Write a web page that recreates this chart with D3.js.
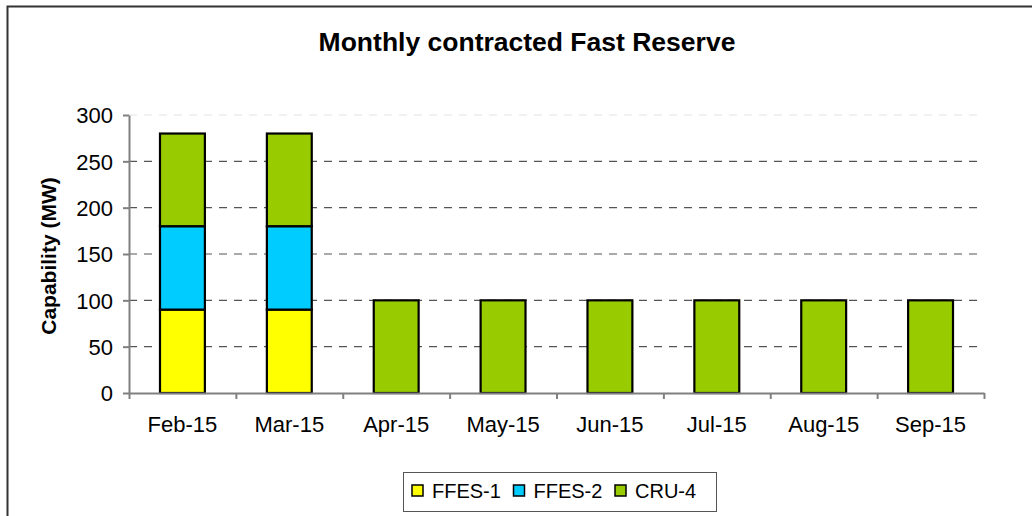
<!DOCTYPE html>
<html lang="en">
<head>
  <meta charset="UTF-8">
  <title>Monthly contracted Fast Reserve</title>
  <script src="https://d3js.org/d3.v7.min.js"></script>
  <style>
    body { margin: 0; background: #ffffff; }
    text { font-family: "Liberation Sans", Arial, sans-serif; fill: #000; }
    .axis path, .axis line { stroke: #808080; stroke-width: 2px; }
    .grid { stroke: #555; stroke-width: 1.2px; stroke-dasharray: 8,7; }
  </style>
</head>
<body>
  <script>
    // chart data
    const months = ["Feb-15", "Mar-15", "Apr-15", "May-15", "Jun-15", "Jul-15", "Aug-15", "Sep-15"];
    const series = ["FFES-1", "FFES-2", "CRU-4"];
    const ffes1 = [90, 90, 0, 0, 0, 0, 0, 0];
    const ffes2 = [90, 90, 0, 0, 0, 0, 0, 0];
    const cru4 = [100, 100, 100, 100, 100, 100, 100, 100];
    const yTicks = [0, 50, 100, 150, 200, 250, 300];
    const colors = ["#ffff00", "#00ccff", "#99cc00"];

    const width = 1032, height = 516;
    const plotLeft = 129, plotRight = 984, plotTop = 115, plotBottom = 393;

    const svg = d3.select("body").append("svg")
      .attr("width", width)
      .attr("height", height);

    // outer chart border (runs off the right and bottom edges)
    svg.append("rect")
      .attr("x", 7.5).attr("y", 6.5)
      .attr("width", 1100).attr("height", 600)
      .attr("fill", "none")
      .attr("stroke", "#333")
      .attr("stroke-width", 2);

    // build rows for the stack
    const rows = months.map((m, i) => ({
      month: m,
      "FFES-1": ffes1[i],
      "FFES-2": ffes2[i],
      "CRU-4": cru4[i]
    }));
    const stacked = d3.stack().keys(series)(rows);

    const x = d3.scaleBand()
      .domain(months)
      .range([plotLeft, plotRight])
      .paddingInner(0.58)
      .paddingOuter(0.29);

    const xEdge = d3.scaleLinear()
      .domain([0, months.length])
      .range([plotLeft, plotRight]);

    const y = d3.scaleLinear()
      .domain([0, 300])
      .range([plotBottom, plotTop]);

    const color = d3.scaleOrdinal().domain(series).range(colors);

    // gridlines
    svg.append("g")
      .selectAll("line")
      .data(yTicks.filter(v => v > 0))
      .enter().append("line")
      .attr("class", "grid")
      .attr("x1", plotLeft).attr("x2", plotRight)
      .attr("y1", d => y(d)).attr("y2", d => y(d))
      .style("stroke", d => d === 300 ? "#e4e4e4" : null);

    // bars
    svg.append("g")
      .selectAll("g")
      .data(stacked)
      .enter().append("g")
      .attr("fill", d => color(d.key))
      .selectAll("rect")
      .data(d => d.filter(s => s[1] - s[0] > 0))
      .enter().append("rect")
      .attr("x", d => x(d.data.month))
      .attr("y", d => y(d[1]))
      .attr("width", x.bandwidth())
      .attr("height", d => y(d[0]) - y(d[1]))
      .attr("stroke", "#000")
      .attr("stroke-width", 2.2);

    // y axis
    const yAxis = svg.append("g")
      .attr("class", "axis")
      .attr("transform", `translate(${plotLeft},0)`)
      .call(d3.axisLeft(y).tickValues(yTicks).tickSize(6).tickPadding(10).tickSizeOuter(0));
    yAxis.selectAll("text")
      .style("font-size", "22px")
      .attr("dy", "0.36em");

    // x axis: tick marks on category boundaries
    svg.append("g")
      .attr("class", "axis")
      .attr("transform", `translate(0,${plotBottom})`)
      .call(d3.axisBottom(xEdge).ticks(months.length).tickSize(6).tickFormat("").tickSizeOuter(0));

    // x axis labels
    const xLab = svg.append("g")
      .attr("transform", `translate(0,${plotBottom})`)
      .call(d3.axisBottom(x).tickSize(0).tickPadding(23));
    xLab.select(".domain").remove();
    xLab.selectAll("text").style("font-size", "22px");

    // title
    svg.append("text")
      .attr("x", 527).attr("y", 51)
      .attr("text-anchor", "middle")
      .style("font-size", "26.5px")
      .style("font-weight", "bold")
      .text("Monthly contracted Fast Reserve");

    // y axis title
    svg.append("text")
      .attr("transform", `translate(56,${(plotTop + plotBottom) / 2 + 2}) rotate(-90)`)
      .attr("text-anchor", "middle")
      .style("font-size", "21px")
      .style("font-weight", "bold")
      .text("Capability (MW)");

    // legend
    const legend = svg.append("g");
    legend.append("rect")
      .attr("x", 403.5).attr("y", 472.5)
      .attr("width", 313).attr("height", 39)
      .attr("fill", "#fff")
      .attr("stroke", "#555")
      .attr("stroke-width", 1);

    const item = legend.selectAll("g.item")
      .data(series)
      .enter().append("g")
      .attr("class", "item")
      .attr("transform", (d, i) => `translate(${412 + i * 101.5},0)`);
    item.append("rect")
      .attr("x", 0).attr("y", 485)
      .attr("width", 11).attr("height", 11)
      .attr("fill", d => color(d))
      .attr("stroke", "#000")
      .attr("stroke-width", 1.5);
    item.append("text")
      .attr("x", 20).attr("y", 498)
      .style("font-size", "20px")
      .text(d => d);
  </script>
</body>
</html>
